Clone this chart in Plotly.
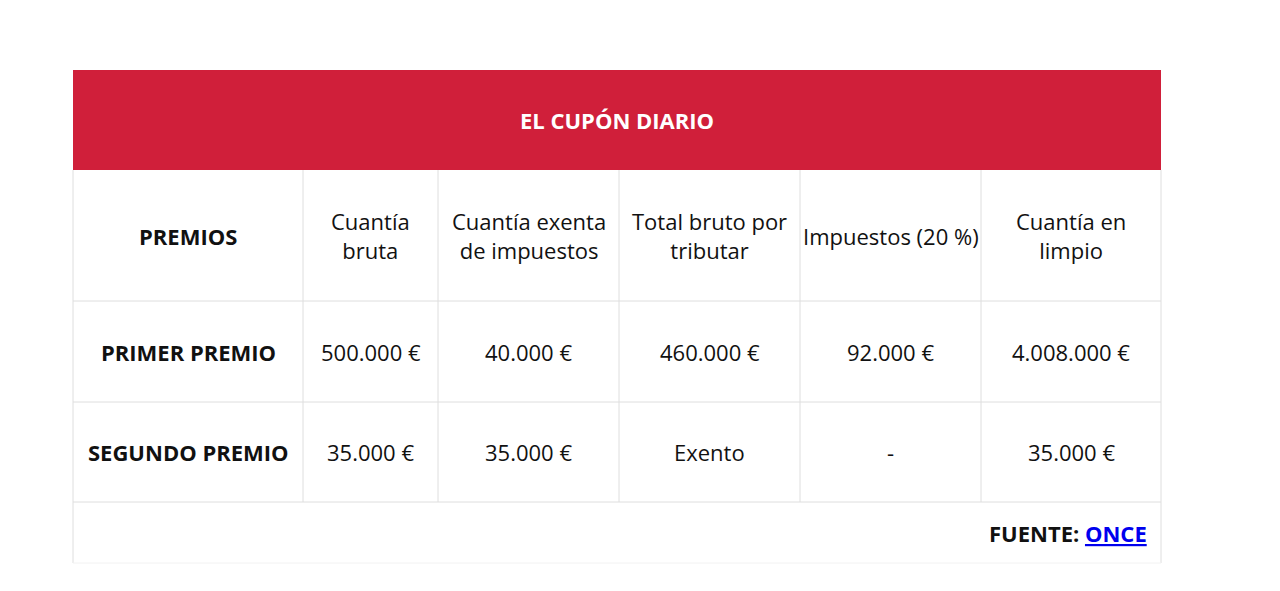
import plotly.graph_objects as go

title = "EL CUPÓN DIARIO"
headers = ["PREMIOS", "Cuantía<br>bruta", "Cuantía exenta<br>de impuestos",
           "Total bruto por<br>tributar", "Impuestos (20 %)", "Cuantía en<br>limpio"]
premios = ["PRIMER PREMIO", "SEGUNDO PREMIO"]
bruta = ["500.000 €", "35.000 €"]
exenta = ["40.000 €", "35.000 €"]
total = ["460.000 €", "Exento"]
impuestos = ["92.000 €", "-"]
limpio = ["4.008.000 €", "35.000 €"]
fuente = "FUENTE: <a href='https://www.juegosonce.es' style='color:#0000ee'><u>ONCE</u></a>"

# layout grid (pixels)
col_edges = [73, 303, 438, 619, 800, 981, 1161]
row_edges = [70, 170, 301, 402, 502, 563]
RED = "#d01f3a"
GRID = "#dedede"
FONT = "Open Sans"

fig = go.Figure()
# page body adds an 8px offset, so shift the ranges to compensate
fig.update_layout(
    width=1280, height=591, margin=dict(l=0, r=0, t=0, b=0),
    plot_bgcolor="white", paper_bgcolor="white", showlegend=False,
    xaxis=dict(range=[8, 1288], visible=False, fixedrange=True),
    yaxis=dict(range=[599, 8], visible=False, fixedrange=True),
)

# title band
fig.add_shape(type="rect", x0=col_edges[0], x1=col_edges[-1], y0=row_edges[0], y1=row_edges[1],
              fillcolor=RED, line=dict(width=0))
fig.add_annotation(x=(col_edges[0] + col_edges[-1]) / 2, y=(row_edges[0] + row_edges[1]) / 2,
                   text="<b>" + title + "</b>", showarrow=False,
                   font=dict(family=FONT, size=22, color="white"))

# grid lines
for y in row_edges[2:5]:
    fig.add_shape(type="line", x0=col_edges[0], x1=col_edges[-1], y0=y, y1=y, line=dict(color=GRID, width=1))
for x in col_edges:
    y1 = row_edges[5] if x in (col_edges[0], col_edges[-1]) else row_edges[4]
    fig.add_shape(type="line", x0=x, x1=x, y0=row_edges[1], y1=y1, line=dict(color=GRID, width=1))
fig.add_shape(type="line", x0=col_edges[0], x1=col_edges[-1], y0=row_edges[5], y1=row_edges[5],
              line=dict(color="#f2f2f2", width=1))

rows = [headers] + [list(r) for r in zip(premios, bruta, exenta, total, impuestos, limpio)]
for r, cells in enumerate(rows):
    yc = (row_edges[r + 1] + row_edges[r + 2]) / 2
    for c, txt in enumerate(cells):
        xc = (col_edges[c] + col_edges[c + 1]) / 2
        bold = c == 0
        fig.add_annotation(x=xc, y=yc, text=("<b>%s</b>" % txt) if bold else txt,
                           showarrow=False,
                           font=dict(family=FONT, size=22, color="#111"))

fig.add_annotation(x=col_edges[-1] - 12, y=(row_edges[4] + row_edges[5]) / 2, xanchor="right",
                   text="<b>" + fuente + "</b>", showarrow=False,
                   font=dict(family=FONT, size=22, color="#111"))

fig.write_html("out.html")
